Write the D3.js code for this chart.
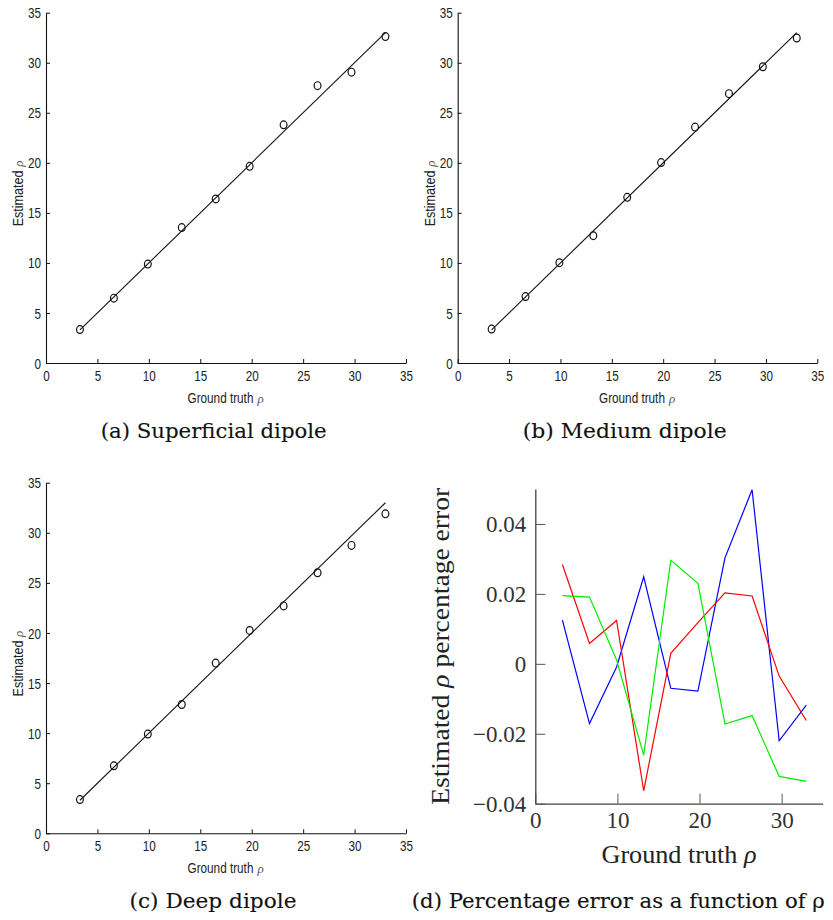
<!DOCTYPE html>
<html><head><meta charset="utf-8">
<script src="https://cdn.jsdelivr.net/npm/d3@7"></script>
<style>
body{margin:0;background:#fff;}
svg{display:block;}
</style></head>
<body>
<svg id="chart" width="833" height="920"></svg>
<script>
// ---------- data ----------
const groundTruth = [3.3, 6.6, 9.9, 13.2, 16.5, 19.8, 23.1, 26.4, 29.7, 33];
const estSuperficial = [3.34, 6.48, 9.88, 13.53, 16.39, 19.65, 23.80, 27.71, 29.06, 32.61];
const estMedium      = [3.39, 6.64, 10.02, 12.72, 16.55, 20.03, 23.57, 26.91, 29.60, 32.47];
const estDeep        = [3.37, 6.74, 9.91, 12.86, 16.99, 20.25, 22.70, 26.01, 28.74, 31.89];
const fitLineX = [3.3, 33];
const fitLineY = [3.3, 33];
const errSuperficial = [0.0125, -0.0171, -0.0009, 0.0249, -0.0070, -0.0078, 0.0303, 0.0498, -0.0220, -0.0118];
const errMedium      = [0.0284, 0.0058, 0.0124, -0.0363, 0.0030, 0.0118, 0.0203, 0.0194, -0.0035, -0.0162];
const errDeep        = [0.0195, 0.0191, 0.0011, -0.0261, 0.0296, 0.0230, -0.0172, -0.0148, -0.0322, -0.0336];
const scatterTicks = [0, 5, 10, 15, 20, 25, 30, 35];
const errXTicks = [0, 10, 20, 30];
const errYTicks = [-0.04, -0.02, 0, 0.02, 0.04];
const captions = ["(a) Superficial dipole", "(b) Medium dipole", "(c) Deep dipole", "(d) Percentage error as a function of \u03C1"];

const svg = d3.select("#chart");
const sansFont = "'Liberation Sans', Arial, sans-serif";
const serifFont = "'Liberation Serif', 'Times New Roman', serif";

function scatterPanel(x0, x1, yTop, yBot, est) {
  const g = svg.append("g");
  const x = d3.scaleLinear().domain([0, 35]).range([x0, x1]);
  const y = d3.scaleLinear().domain([0, 35]).range([yBot, yTop]);
  const xa = g.append("g").attr("transform", `translate(0,${yBot})`)
    .call(d3.axisBottom(x).tickValues(scatterTicks).tickSizeInner(-4).tickSizeOuter(0).tickPadding(8));
  const ya = g.append("g").attr("transform", `translate(${x0},0)`)
    .call(d3.axisLeft(y).tickValues(scatterTicks).tickSizeInner(-4).tickSizeOuter(0).tickPadding(5));
  [xa, ya].forEach(a => {
    a.select(".domain").attr("stroke", "#111").attr("stroke-width", 1.1);
    a.selectAll(".tick line").attr("stroke", "#111");
    a.selectAll(".tick text").attr("font-family", sansFont).attr("font-size", 14).attr("fill", "#222")
      .attr("textLength", d => String(d).length * 6.5).attr("lengthAdjust", "spacingAndGlyphs");
  });
  ya.selectAll(".tick text").attr("dy", "0.36em");
  // fit line
  g.append("path")
    .attr("d", d3.line().x((d, i) => x(d)).y((d, i) => y(fitLineY[i]))(fitLineX))
    .attr("fill", "none").attr("stroke", "#111").attr("stroke-width", 1.1);
  // points
  g.selectAll("ellipse.pt").data(groundTruth).enter().append("ellipse")
    .attr("cx", d => x(d)).attr("cy", (d, i) => y(est[i]))
    .attr("rx", 3.4).attr("ry", 3.9)
    .attr("fill", "none").attr("stroke", "#111").attr("stroke-width", 1.2);
  // x label
  const cx = (x0 + x1) / 2;
  g.append("text").attr("transform", `translate(${cx - 38.5},${yBot + 40}) scale(0.84,1)`)
    .attr("font-family", sansFont).attr("font-size", 14).attr("fill", "#222").text("Ground truth");
  g.append("text").attr("x", cx + 31.5).attr("y", yBot + 40)
    .attr("font-family", serifFont).attr("font-style", "italic").attr("font-size", 13).attr("fill", "#555").text("\u03C1");
  // y label
  const cy = (yTop + yBot) / 2 + 5;
  const yg = g.append("g").attr("transform", `translate(${x0 - 23},${cy}) rotate(-90)`);
  yg.append("text").attr("transform", "translate(-33.5,0) scale(0.9,1)")
    .attr("font-family", sansFont).attr("font-size", 14).attr("fill", "#222").text("Estimated");
  yg.append("text").attr("x", 26).attr("y", 0)
    .attr("font-family", serifFont).attr("font-style", "italic").attr("font-size", 13).attr("fill", "#555").text("\u03C1");
}

scatterPanel(46, 406, 12.7, 363, estSuperficial);
scatterPanel(457.7, 817.3, 12.7, 363, estMedium);
scatterPanel(46, 406, 482.7, 833.3, estDeep);

// ---------- panel d ----------
(function () {
  const x0 = 535.3, x1 = 822.7, yTop = 489, yBot = 803.7;
  const g = svg.append("g");
  const x = d3.scaleLinear().domain([0, 35]).range([x0, x1]);
  const y = d3.scaleLinear().domain([-0.04, 0.05]).range([yBot, yTop]);
  const fmt = d => d === 0 ? "0" : (d < 0 ? "\u2212" : "") + Math.abs(d).toFixed(2);
  const xa = g.append("g").attr("transform", `translate(0,${yBot})`)
    .call(d3.axisBottom(x).tickValues(errXTicks).tickSizeInner(-10).tickSizeOuter(0).tickPadding(8).tickFormat(d3.format("d")));
  const ya = g.append("g").attr("transform", `translate(${x0},0)`)
    .call(d3.axisLeft(y).tickValues(errYTicks).tickSizeInner(-10).tickSizeOuter(0).tickPadding(9).tickFormat(fmt));
  [xa, ya].forEach(a => {
    a.select(".domain").attr("stroke", "#444").attr("stroke-width", 1.3);
    a.selectAll(".tick line").attr("stroke", "#555").attr("stroke-width", 1);
    a.selectAll(".tick text").attr("font-family", serifFont).attr("font-size", 23).attr("fill", "#333");
  });
  ya.selectAll(".tick text").attr("dy", "0.34em");
  const series = [[errSuperficial, "#0000ff"], [errMedium, "#ff0000"], [errDeep, "#00ee00"]];
  const line = d3.line().x((d, i) => x(groundTruth[i])).y(d => y(d));
  series.forEach(([vals, col]) => {
    g.append("path").attr("d", line(vals)).attr("fill", "none").attr("stroke", col).attr("stroke-width", 1.2);
  });
  const xl = g.append("text").attr("x", (x0 + x1) / 2).attr("y", 863)
    .attr("text-anchor", "middle").attr("font-family", serifFont).attr("font-size", 25).attr("fill", "#222")
    .attr("textLength", 155).attr("lengthAdjust", "spacingAndGlyphs");
  xl.append("tspan").text("Ground truth ");
  xl.append("tspan").text("\u03C1").attr("font-style", "italic");
  const yl = g.append("text")
    .attr("transform", `translate(449,${(yTop + yBot) / 2}) rotate(-90)`)
    .attr("text-anchor", "middle").attr("font-family", serifFont).attr("font-size", 25).attr("fill", "#222")
    .attr("textLength", 317).attr("lengthAdjust", "spacingAndGlyphs");
  yl.append("tspan").text("Estimated ");
  yl.append("tspan").text("\u03C1").attr("font-style", "italic");
  yl.append("tspan").text(" percentage error");
})();

// ---------- captions ----------
const capPos = [[213.7, 438, 226], [624.7, 438, 204], [213, 908.3, 167], [618.3, 908.3, 413]];
captions.forEach((c, i) => {
  svg.append("text").attr("x", capPos[i][0]).attr("y", capPos[i][1])
    .attr("text-anchor", "middle").attr("font-family", "'DejaVu Serif', serif").attr("font-size", 21).attr("fill", "#111")
    .attr("stroke", "#111").attr("stroke-width", 0.12)
    .attr("textLength", capPos[i][2]).attr("lengthAdjust", "spacingAndGlyphs")
    .text(c);
});
</script>
</body></html>
